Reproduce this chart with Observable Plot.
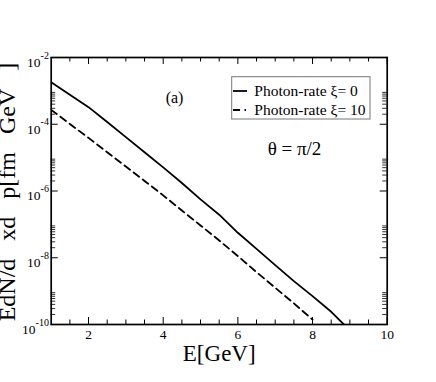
<!DOCTYPE html>
<html>
<head>
<meta charset="utf-8">
<script src="https://cdn.jsdelivr.net/npm/d3@7"></script>
<script src="https://cdn.jsdelivr.net/npm/@observablehq/plot@0.6"></script>
<style>
  html, body { margin: 0; padding: 0; background: #fff; }
  #chart svg { display: block; }
  #chart svg text { font-family: "Liberation Serif", "Times New Roman", serif; }
</style>
</head>
<body>
<div id="chart"></div>
<script>
// ---- data ----
const energyXi0 = [1, 1.5, 2, 2.5, 3, 3.5, 4, 4.5, 5, 5.5, 6, 6.5, 7, 7.5, 8, 8.5, 8.84];
const rateXi0 = [1.82e-3, 7.6e-4, 3.25e-4, 1.17e-4, 4.1e-5, 1.45e-5, 5.1e-6, 1.74e-6, 5.6e-7, 1.95e-7, 5.6e-8, 1.85e-8, 6.0e-9, 2.0e-9, 7.1e-10, 2.4e-10, 1.0e-10];
const energyXi10 = [1, 1.5, 2, 2.5, 3, 3.5, 4, 4.5, 5, 5.5, 6, 6.5, 7, 7.5, 8];
const rateXi10 = [2.7e-4, 1.02e-4, 3.9e-5, 1.45e-5, 5.4e-6, 2.0e-6, 7.4e-7, 2.6e-7, 9.3e-8, 3.3e-8, 1.12e-8, 3.7e-9, 1.26e-9, 4.3e-10, 1.4e-10];
const seriesNames = ["Photon-rate \u03BE= 0", "Photon-rate \u03BE= 10"];

const xMajorTicks = [2, 4, 6, 8, 10];
const xMinorTicks = [1.5, 2.5, 3, 3.5, 4.5, 5, 5.5, 6.5, 7, 7.5, 8.5, 9, 9.5];
const yMajorExponents = [-2, -4, -6, -8, -10];
const yMinorDecades = [-4, -6, -8, -10];
const yMinorMultipliers = [2, 3, 4, 5, 6, 7, 8, 9];

const xLabel = "E[GeV]";
const yLabel = "EdN/d\u2002\u00A0xd\u2002\u00A0p[fm\u2002\u00A0GeV\u2002\u00A0]";
const panelLabel = "(a)";
const angleLabel = "\u03B8 = \u03C0/2";

// ---- layout ----
const W = 436, H = 382;
const mL = 50.7, mR = 49.3, mT = 57, mB = 58;
const plotW = W - mL - mR, plotH = H - mT - mB;
const font = "'Liberation Serif', 'Times New Roman', serif";

const rowsXi0 = energyXi0.map((e, i) => ({e, r: rateXi0[i]}));
const rowsXi10 = energyXi10.map((e, i) => ({e, r: rateXi10[i]}));
const yMajorValues = yMajorExponents.map(p => Math.pow(10, p));
const yMinorValues = yMinorDecades.flatMap(p => yMinorMultipliers.map(k => k * Math.pow(10, p)));

const majLen = 7, minLen = 4.5;

const expFont = 10, tenFont = 13.5;
const yTickLabelMarks = yMajorExponents.flatMap(p => {
  const expText = "-" + Math.abs(p);
  const expWidth = (0.333 + 0.5 * String(Math.abs(p)).length) * expFont;
  return [
    Plot.text([Math.pow(10, p)], {y: d => d, text: () => expText, frameAnchor: "left", textAnchor: "end", lineAnchor: "middle", dx: -2.3, dy: -2, fontSize: expFont}),
    Plot.text([Math.pow(10, p)], {y: d => d, text: () => "10", frameAnchor: "left", textAnchor: "end", lineAnchor: "middle", dx: -2.3 - expWidth, dy: 5, fontSize: tenFont})
  ];
});

const chart = Plot.plot({
  width: W,
  height: H,
  marginLeft: mL,
  marginRight: mR,
  marginTop: mT,
  marginBottom: mB,
  style: {fontFamily: font, background: "#fff", color: "#000"},
  x: {domain: [1, 10], axis: null},
  y: {type: "log", domain: [1e-10, 1e-2], axis: null},
  marks: [
    Plot.line(rowsXi0, {x: "e", y: "r", stroke: "#000", strokeWidth: 1.8, clip: true}),
    Plot.line(rowsXi10, {x: "e", y: "r", stroke: "#000", strokeWidth: 1.8, strokeDasharray: "7,4.5", clip: true}),
    // x ticks, bottom and top, inward
    Plot.tickX(xMajorTicks, {x: d => d, insetTop: plotH - majLen, stroke: "#000"}),
    Plot.tickX(xMajorTicks, {x: d => d, insetBottom: plotH - majLen, stroke: "#000"}),
    Plot.tickX(xMinorTicks, {x: d => d, insetTop: plotH - minLen, stroke: "#000"}),
    Plot.tickX(xMinorTicks, {x: d => d, insetBottom: plotH - minLen, stroke: "#000"}),
    // y ticks, left and right, inward
    Plot.tickY(yMajorValues, {y: d => d, insetRight: plotW - majLen, stroke: "#000"}),
    Plot.tickY(yMajorValues, {y: d => d, insetLeft: plotW - majLen, stroke: "#000"}),
    Plot.tickY(yMinorValues, {y: d => d, insetRight: plotW - minLen, stroke: "#000", strokeWidth: 0.8}),
    Plot.tickY(yMinorValues, {y: d => d, insetLeft: plotW - minLen, stroke: "#000", strokeWidth: 0.8}),
    Plot.frame({stroke: "#000", strokeWidth: 1.7}),
    // tick labels
    Plot.text(xMajorTicks, {x: d => d, text: d => String(d), frameAnchor: "bottom", lineAnchor: "middle", dy: 10.5, fontSize: 13.5}),
    ...yTickLabelMarks,
    // axis titles
    Plot.text([xLabel], {text: d => d, frameAnchor: "bottom", lineAnchor: "middle", dy: 29, fontSize: 23}),
    Plot.text([yLabel], {text: d => d, frameAnchor: "left", textAnchor: "middle", rotate: -90, lineAnchor: "bottom", dx: -36, dy: 1, fontSize: 24}),
    // annotations
    Plot.text([panelLabel], {text: d => d, frameAnchor: "top-left", textAnchor: "middle", lineAnchor: "middle", dx: 123.3, dy: 40, fontSize: 16}),
    Plot.text([angleLabel], {text: d => d, frameAnchor: "top-left", textAnchor: "middle", lineAnchor: "middle", dx: 243.3, dy: 91, fontSize: 19})
  ]
});

// legend box
const svg = d3.select(chart);
const lg = svg.append("g").attr("text-anchor", "start");
lg.append("rect").attr("x", 231.7).attr("y", 76.7).attr("width", 138.3).attr("height", 42.3)
  .attr("fill", "#fff").attr("stroke", "#777").attr("stroke-width", 1);
const dashes = [null, "7,4.5"];
seriesNames.forEach((name, i) => {
  const cy = 91 + i * 19;
  lg.append("line").attr("x1", 233).attr("x2", i === 0 ? 247 : 246).attr("y1", cy).attr("y2", cy)
    .attr("stroke", "#000").attr("stroke-width", 1.8).attr("stroke-dasharray", dashes[i]);
  lg.append("text").attr("x", 254.3).attr("y", cy).attr("dy", "0.33em").attr("fill", "#000")
    .style("font-family", "\"Liberation Serif\", \"Times New Roman\", serif")
    .style("font-size", "15.5px")
    .attr("text-anchor", "start").text(name);
});

document.getElementById("chart").appendChild(chart);
</script>
</body>
</html>
